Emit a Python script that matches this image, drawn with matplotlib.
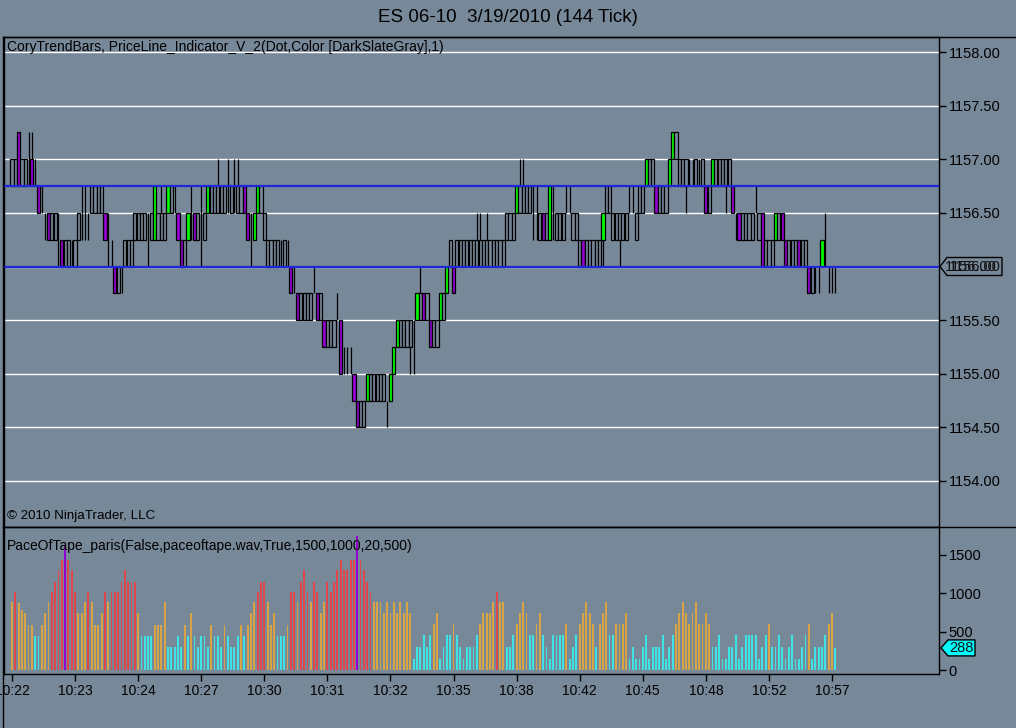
import numpy as np
import matplotlib.pyplot as plt
from matplotlib.patches import Polygon
from matplotlib.lines import Line2D
from matplotlib import transforms

plt.rcParams['font.family'] = ['Liberation Sans', 'DejaVu Sans']

# --- data ---------------------------------------------------------------
# price bars: kind (o hollow, g green, p purple, l line only), body low/high
# in ticks above 1154.50 (hex), optional wick low/high
bar_codes = """
o9a o9a p9b o9a o9a l9b p9a9b l9a p89 l89
l78 p78 o78 o78 l68 p67 o67 o67 l67 o67
o78 l79 l79 l78 o89 o89 o89 o89 p78 l68
l67 p56 o56 l56 o67 o67 o67 o78 o78 o78
o78 l68 o78 g79 o78 o7879 o78 g89 o89 l89
p78 p67 o67 g78 l79 p78 o78 l69 o78 g89
o89 o89 o898a o89 o89 l8a o89 l8a o898a o89
p89 p78 l68 g78 g89 o89 o78 o67 o67 o67
o67 l67 o67 l67 p56 l56 p45 o45 o45 o45
o45 l56 p45 o45 p34 o34 o34 o34 l45 p24
l23 l23 l23 p12 p01 o01 o01 g12 o12 o12
o12 o12 o12 l01 g12 g23 g34 o34 o34 o34
o3424 l24 g45 o4546 p45 o45 p34 o34 o34 g45
o45 g56 o67 p56 o67 o67 o67 o67 o67 o67
o6768 o6768 o67 o6768 o67 o67 o67 o67 o67 o78
o78 o78 g89 o898a o898a o89 o89 l79 l79 o78
p78 o78 g79 l79 o78 o78 o78 l89 l89 o78
o78 o67 p67 o67 o67 o67 o67 o67 g7867 o89
o89 o78 o78 o7867 o78 o78 l89 l89 o78 o89
o89 g9a o9a o9a p89 o89 o89 o89 g9a gab
oab o9a o9a o9a8a l9a l9a o9a l9a o9a p89
o89 g9a o9a o9a o9a o9a8a o9a p89 l78 p78
o78 o78 o78 o78 l89 o78 p68 o67 o67 o67
g78 o78 p78 p67 o67 o67 o67 p67 o67 o67
p56 o56 l56 l56 g67 l68 l56 l56 l56
""".split()
base_price = 1154.50
tick_size = 0.25

volume = [
    890, 1020, 870, 780, 740, 590, 590, 440, 440, 590, 740,
    880, 1020, 1150, 1300, 1440, 1620, 1440, 1300, 1020, 740,
    740, 880, 1020, 880, 590, 590, 740, 1020, 880, 1020,
    1020, 1020, 1150, 1300, 1150, 1150, 1150, 740,
    440, 440, 440, 440, 590, 590, 590, 880, 300, 300,
    300, 440, 300, 590, 440, 740, 440, 300, 440, 440,
    300, 590, 440, 440, 300, 590, 440, 300, 300, 440,
    590, 440, 590, 740, 880, 1020, 1150, 1150, 880, 590,
    740, 440, 440, 440, 590, 1020, 1020, 880, 1150, 1300,
    1020, 880, 1150, 1020, 740, 880, 1150, 1020, 1150, 1300,
    1440, 1300, 1300, 1440, 1440, 1750, 1440, 1300, 1150, 1020,
    880,
    880, 890, 740, 890, 740, 890, 740, 890, 740, 890, 740,
    150, 300, 300, 457, 300, 457, 596, 740, 150, 300,
    457, 457, 596, 457, 300, 150, 300, 300, 300, 457,
    596, 740, 740, 740, 890, 1020,
    890, 890, 300, 300, 457, 596, 740, 890, 740, 457,
    457, 596, 740, 457, 300, 150, 457, 457, 457, 457,
    596, 150, 300, 457, 596, 740, 890, 740, 596, 300,
    596, 740, 890, 457, 457,
    596, 596, 596, 740, 150, 300, 150, 150, 300, 457,
    150, 300, 300, 300, 457, 150, 300, 457, 596, 740,
    890, 740, 596, 740, 890, 596, 596, 740, 596, 300,
    300, 457, 150, 150, 300, 300, 457, 150, 300, 457,
    457, 457, 457, 150, 300, 457, 596, 300, 300, 457,
    300, 150, 300, 457, 150, 150, 300, 457, 596, 150,
    300, 300, 300, 457, 596, 740, 288,
]

tick_idx = [0, 19, 38, 57, 76, 95, 114, 133, 152, 171, 190, 209, 228, 247]
tick_labels = ['10:22', '10:23', '10:24', '10:27', '10:30', '10:31', '10:32',
               '10:35', '10:38', '10:42', '10:45', '10:48', '10:52', '10:57']

price_lines = [1156.75, 1156.00]
last_price = 1156.00
last_volume = 288

# --- style --------------------------------------------------------------
BG = '#778899'
GREEN = '#00FF00'
PURPLE = '#9400D3'
BLUE = '#1E28D8'
W, H = 1016, 728


def fx(px):
    return px / W


def fy(py):
    return 1 - py / H


fig = plt.figure(figsize=(W / 100, H / 100), dpi=100, facecolor=BG)
ax_p = fig.add_axes([fx(4), fy(527), fx(939) - fx(4), fy(37) - fy(527)], facecolor=BG)
ax_v = fig.add_axes([fx(4), fy(674), fx(939) - fx(4), fy(527) - fy(674)], facecolor=BG)

x_left = -2.4
x_right = x_left + 935 / 3.32
for ax in (ax_p, ax_v):
    ax.set_xlim(x_left, x_right)
    for s in ax.spines.values():
        s.set_color('black')
        s.set_linewidth(1)
    ax.yaxis.tick_right()
    ax.tick_params(axis='y', direction='out', length=5, width=1, colors='black',
                   labelsize=10.5, pad=2)

# price panel
ax_p.set_ylim(1153.571, 1158.14)
ax_p.set_yticks(np.arange(1154.0, 1158.01, 0.5))
ax_p.set_yticklabels([f'{v:.2f}' for v in np.arange(1154.0, 1158.01, 0.5)])
ax_p.set_xticks([])
ax_p.yaxis.grid(True, color='white', linewidth=1)
ax_p.set_axisbelow(True)

colors = {'o': BG, 'g': GREEN, 'p': PURPLE}
for i, code in enumerate(bar_codes):
    kind = code[0]
    lo = base_price + int(code[1], 16) * tick_size
    hi = base_price + int(code[2], 16) * tick_size
    if len(code) == 5:
        wlo = base_price + int(code[3], 16) * tick_size
        whi = base_price + int(code[4], 16) * tick_size
        ax_p.vlines(i, wlo, whi, color='black', linewidth=0.9, zorder=2)
    if kind == 'l':
        ax_p.vlines(i, lo, hi, color='black', linewidth=0.9, zorder=2)
    else:
        ax_p.bar(i, hi - lo, bottom=lo, width=0.95, facecolor=colors[kind],
                 edgecolor='black', linewidth=0.9, zorder=3)

for level in price_lines:
    ax_p.axhline(level, color=BLUE, linewidth=1.6, zorder=4)

ax_p.text(3 / 935, 1 - 10 / 490,
          'CoryTrendBars, PriceLine_Indicator_V_2(Dot,Color [DarkSlateGray],1)',
          transform=ax_p.transAxes, fontsize=10, va='center', ha='left')
ax_p.text(3 / 935, 11 / 490, '\u00a9 2010 NinjaTrader, LLC',
          transform=ax_p.transAxes, fontsize=9.6, va='center', ha='left')

# volume panel
ax_v.set_ylim(-52, 1864)
ax_v.set_yticks([0, 500, 1000, 1500])
ax_v.set_yticklabels(['0', '500', '1000', '1500'])


def vol_color(v):
    if v >= 1500:
        return PURPLE
    if v >= 1000:
        return '#E0474C'
    if v >= 500:
        return '#D9A443'
    return '#3FE3E3'


ax_v.bar(range(len(volume)), volume, width=0.55,
         color=[vol_color(v) for v in volume], linewidth=0)
ax_v.set_xticks(tick_idx)
ax_v.set_xticklabels(tick_labels)
ax_v.tick_params(axis='x', direction='out', length=5, width=1, colors='black',
                 labelsize=10, pad=2)
ax_v.text(3 / 935, 1 - 19 / 147,
          'PaceOfTape_paris(False,paceoftape.wav,True,1500,1000,20,500)',
          transform=ax_v.transAxes, fontsize=10, va='center', ha='left')

# frame lines across the whole chart
for (x0, y0, x1, y1) in [(3, 37, 1016, 37), (3, 527, 1016, 527), (3, 37, 3, 728)]:
    fig.add_artist(Line2D([fx(x0), fx(x1)], [fy(y0), fy(y1)], color='black',
                          linewidth=1))

fig.text(0.5, fy(17), 'ES 06-10  3/19/2010 (144 Tick)', ha='center', va='center',
         fontsize=13.5)


# right-hand value tags
def tag(ax, value, texts, face, x0, x1, half):
    lo, hi = ax.get_ylim()
    unit = (hi - lo) / (ax.get_position().height * H)
    trans = transforms.blended_transform_factory(fig.transFigure, ax.transData)
    pts = [(fx(x0), value), (fx(x0 + 7), value + half * unit),
           (fx(x1), value + half * unit), (fx(x1), value - half * unit),
           (fx(x0 + 7), value - half * unit)]
    fig.add_artist(Polygon(pts, closed=True, transform=trans, facecolor=face,
                           edgecolor='black', linewidth=1))
    for tx, s in texts:
        fig.text(fx(tx), value, s, transform=trans, fontsize=10.5, va='center',
                 ha='left', color='#101010')


tag(ax_p, last_price, [(945, f'{last_price:.2f}'), (949, f'{last_price:.2f}')],
    BG, 940, 1002, 9)
tag(ax_v, last_volume, [(949, str(last_volume))], '#00FFFF', 941, 975, 8)

fig.savefig('out.png', dpi=100, facecolor=BG)
